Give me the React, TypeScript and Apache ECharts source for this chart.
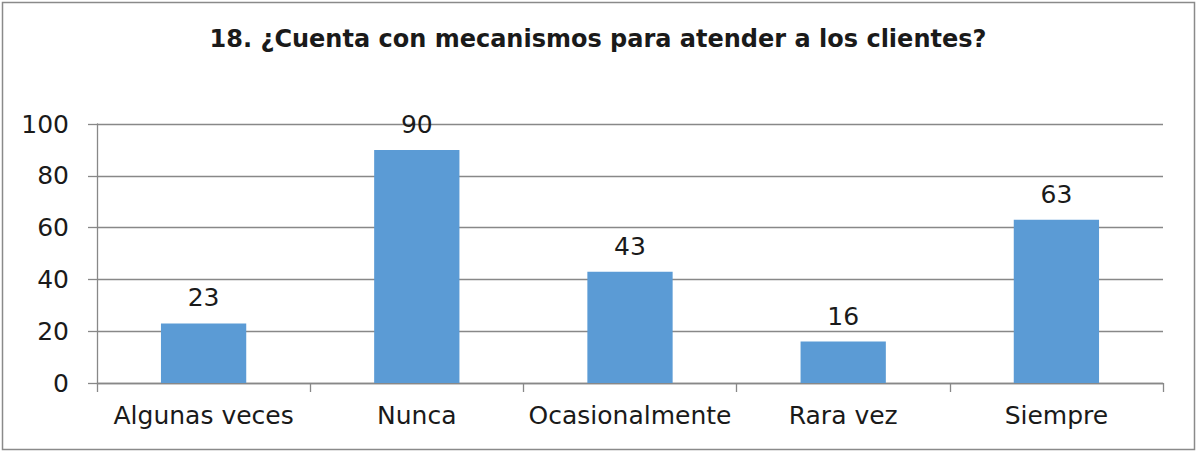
import React, { useEffect, useRef } from "react";
import * as echarts from "echarts";

const titleText = "18. ¿Cuenta con mecanismos para atender a los clientes?";
const categories = ["Algunas veces", "Nunca", "Ocasionalmente", "Rara vez", "Siempre"];
const values = [23, 90, 43, 16, 63];
const yTicks = { min: 0, max: 100, interval: 20 };

const FONT = "'DejaVu Sans', sans-serif";

export default function App() {
  const ref = useRef<HTMLDivElement>(null);
  useEffect(() => {
    document.body.style.margin = "0";
    const chart = echarts.init(ref.current!, null, { renderer: "svg" });
    chart.setOption({
      animation: false,
      backgroundColor: "#ffffff",
      title: {
        text: titleText,
        left: "center",
        top: 22,
        textStyle: { fontFamily: FONT, fontWeight: "bold", fontSize: 24, color: "#1a1a1a" },
      },
      graphic: [
        {
          type: "rect",
          shape: { x: 2.5, y: 2.5, width: 1192, height: 447 },
          style: { fill: "none", stroke: "#8a8a8a", lineWidth: 1.5 },
          silent: true,
        },
      ],
      grid: { left: 97, right: 33, top: 124, bottom: 68 },
      xAxis: {
        type: "category",
        data: categories,
        axisLine: { show: true, lineStyle: { color: "#888888", width: 1.3 } },
        axisTick: { show: true, length: 9, alignWithLabel: false, lineStyle: { color: "#888888", width: 1.3 } },
        axisLabel: { fontFamily: FONT, fontSize: 25, color: "#1a1a1a", margin: 20, interval: 0 },
      },
      yAxis: {
        type: "value",
        min: yTicks.min,
        max: yTicks.max,
        interval: yTicks.interval,
        axisLine: { show: true, lineStyle: { color: "#888888", width: 1.3 } },
        axisTick: { show: true, length: 9, lineStyle: { color: "#888888", width: 1.3 } },
        axisLabel: { fontFamily: FONT, fontSize: 25, color: "#1a1a1a", margin: 28 },
        splitLine: { show: true, lineStyle: { color: "#888888", width: 1.3 } },
      },
      series: [
        {
          type: "bar",
          data: values,
          barWidth: "40%",
          itemStyle: { color: "#5B9BD5" },
          label: {
            show: true,
            position: "top",
            distance: 13,
            fontFamily: FONT,
            fontSize: 25,
            color: "#1a1a1a",
          },
        },
      ],
    });
    return () => chart.dispose();
  }, []);
  return <div ref={ref} style={{ position: "absolute", left: 0, top: 0, width: 1196, height: 451 }} />;
}
